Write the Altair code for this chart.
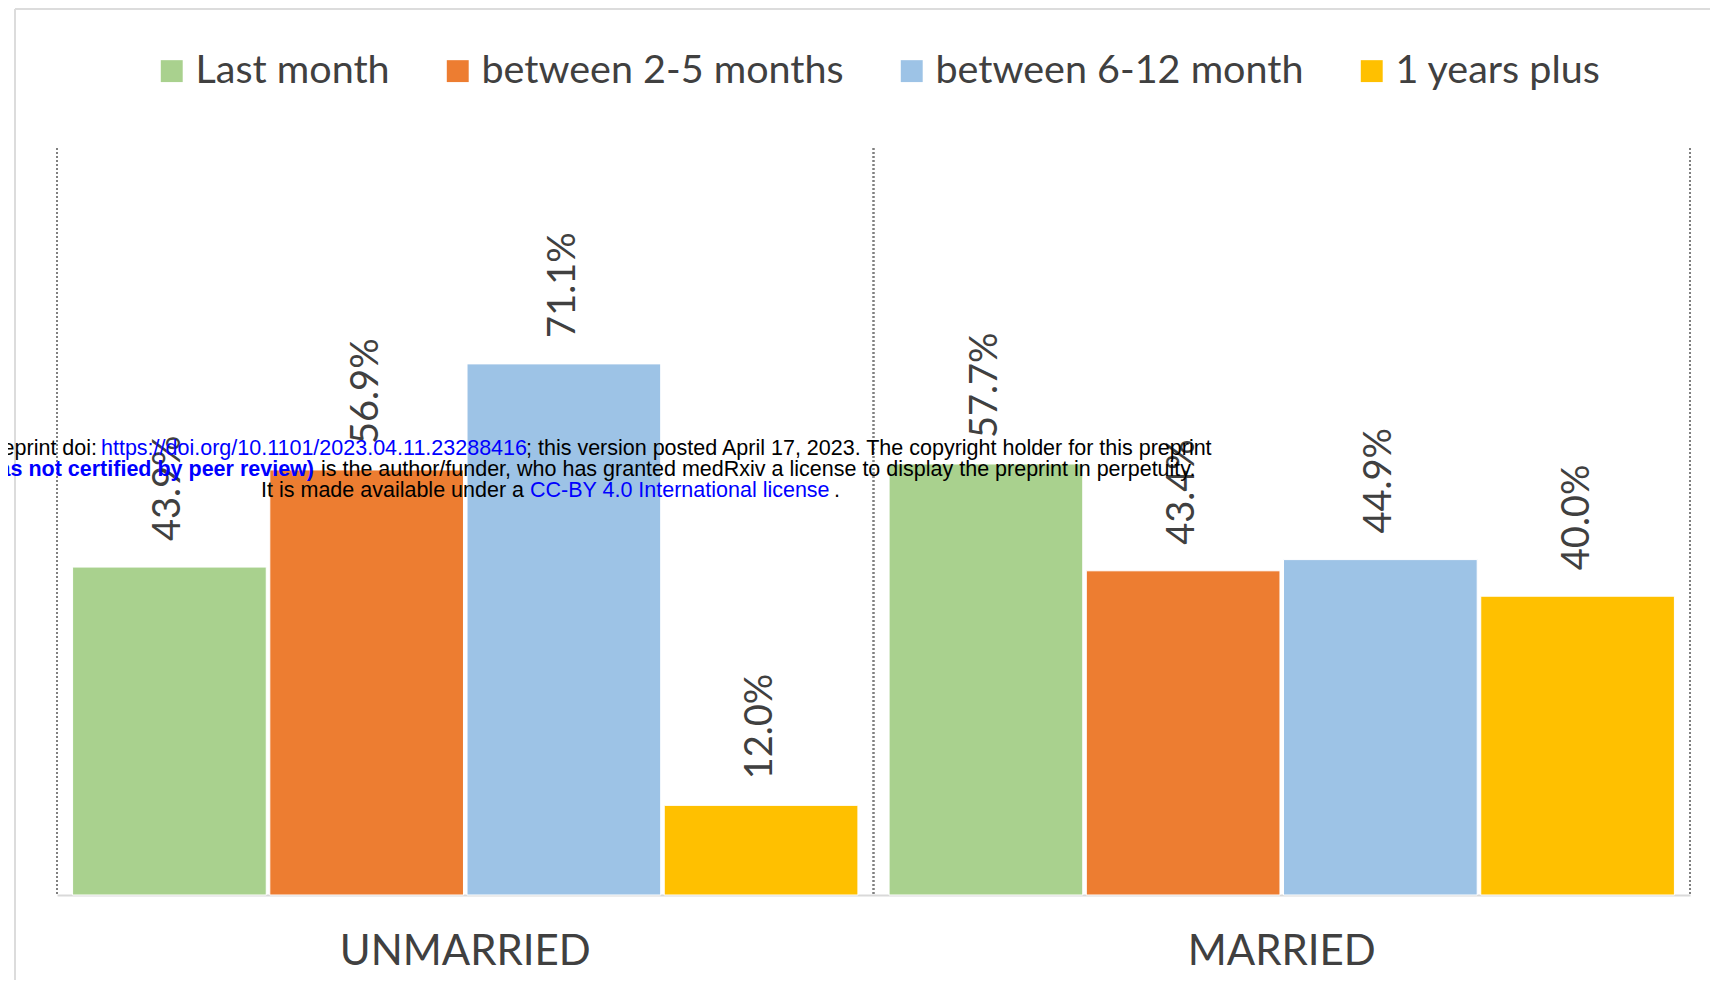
import altair as alt
import pandas as pd

groups = ["UNMARRIED", "MARRIED"]
series = ["Last month", "between 2-5 months", "between 6-12 month", "1 years plus"]
colors = ["#a9d18e", "#ed7d31", "#9dc3e6", "#ffc000"]
unmarried = [43.9, 56.9, 71.1, 12.0]
married = [57.7, 43.4, 44.9, 40.0]

wm_line1 = ["medRxiv preprint doi:", "https://doi.org/10.1101/2023.04.11.23288416",
            "; this version posted April 17, 2023. The copyright holder for this preprint"]
wm_line2 = ["(which was not certified by peer review)",
            "is the author/funder, who has granted medRxiv a license to display the preprint in perpetuity."]
wm_line3 = ["It is made available under a", "CC-BY 4.0 International license", "."]

rows = []
for g, vals in zip(groups, [unmarried, married]):
    for s, v in zip(series, vals):
        rows.append({"group": g, "series": s, "value": v})
df = pd.DataFrame(rows)

FONT = "Lato"
TXT = "#404040"

x_enc = alt.X(
    "group:N",
    scale=alt.Scale(domain=groups, paddingInner=0, paddingOuter=0),
    axis=alt.Axis(title=None, labelFontSize=42, labelFont=FONT, labelColor=TXT,
                  labelPadding=36, ticks=False, domainColor="#d9d9d9", domainWidth=2,
                  labelAngle=0, grid=False, labelLimit=1000),
)
x_off = alt.XOffset("series:N", scale=alt.Scale(domain=series, paddingInner=0.018, paddingOuter=0.079))
y_enc = alt.Y("value:Q", scale=alt.Scale(domain=[0, 100], nice=False), axis=None)

bars = alt.Chart(df).mark_bar(stroke="white", strokeWidth=1).encode(
    x=x_enc,
    xOffset=x_off,
    y=y_enc,
    color=alt.Color(
        "series:N",
        scale=alt.Scale(domain=series, range=colors),
        legend=alt.Legend(title=None, orient="none", legendX=95, legendY=-97,
                          direction="horizontal", columns=4, symbolType="square",
                          symbolSize=480, symbolStrokeWidth=0, labelFontSize=39.5,
                          labelFont=FONT, labelColor=TXT, labelOffset=4,
                          columnPadding=48, padding=0, labelLimit=600),
    ),
)

labels = alt.Chart(df).transform_calculate(
    lbl="format(datum.value, '.1f') + '%'"
).mark_text(angle=270, align="left", baseline="middle", dx=26, font=FONT,
            fontSize=38, color=TXT).encode(
    x=alt.X("group:N"), xOffset=alt.XOffset("series:N"), y=alt.Y("value:Q"), text="lbl:N"
)

sep_df = pd.DataFrame({"group": groups})
sep_a = alt.Chart(sep_df).mark_rule(color="#808080", strokeWidth=2, strokeDash=[2, 2]).encode(
    x=alt.X("group:N", bandPosition=0), y=alt.datum(100), y2=alt.datum(0)
)
sep_b = alt.Chart(sep_df).mark_rule(color="#808080", strokeWidth=2, strokeDash=[2, 2]).encode(
    x=alt.X("group:N", bandPosition=1), y=alt.datum(100), y2=alt.datum(0)
)

one = pd.DataFrame({"a": [0]})
frame_l = alt.Chart(one).mark_rule(color="#dcdcdc", strokeWidth=2).encode(
    x=alt.value(-42), y=alt.value(-139), y2=alt.value(900)
)
frame_t = alt.Chart(one).mark_rule(color="#dcdcdc", strokeWidth=2).encode(
    x=alt.value(-42), x2=alt.value(1700), y=alt.value(-139)
)


def wm(text, x, y, align, color="black", bold=False):
    return alt.Chart(one).mark_text(
        text=text, align=align, baseline="middle", font="Liberation Sans",
        fontSize=21.5, color=color, fontWeight="bold" if bold else "normal"
    ).encode(x=alt.value(x), y=alt.value(y))


BLUE = "#0000ff"
wms = [
    wm(wm_line1[0], 40, 301, "right"),
    wm(wm_line1[1], 44, 301, "left", BLUE),
    wm(wm_line1[2], 469, 301, "left"),
    wm(wm_line2[0], 257, 322, "right", BLUE, True),
    wm(wm_line2[1], 264, 322, "left"),
    wm(wm_line3[0], 467, 343, "right"),
    wm(wm_line3[1], 473, 343, "left", BLUE),
    wm(wm_line3[2], 777, 343, "left"),
]

chart = alt.layer(frame_l, frame_t, bars, sep_a, sep_b, labels, *wms).properties(
    width=1633, height=747,
    autosize=alt.AutoSizeParams(type="none"),
    padding={"left": 49, "top": 140, "right": 20, "bottom": 85},
).configure_view(strokeWidth=0)

chart.save("out.html", embed_options={"renderer": "svg", "actions": False})
